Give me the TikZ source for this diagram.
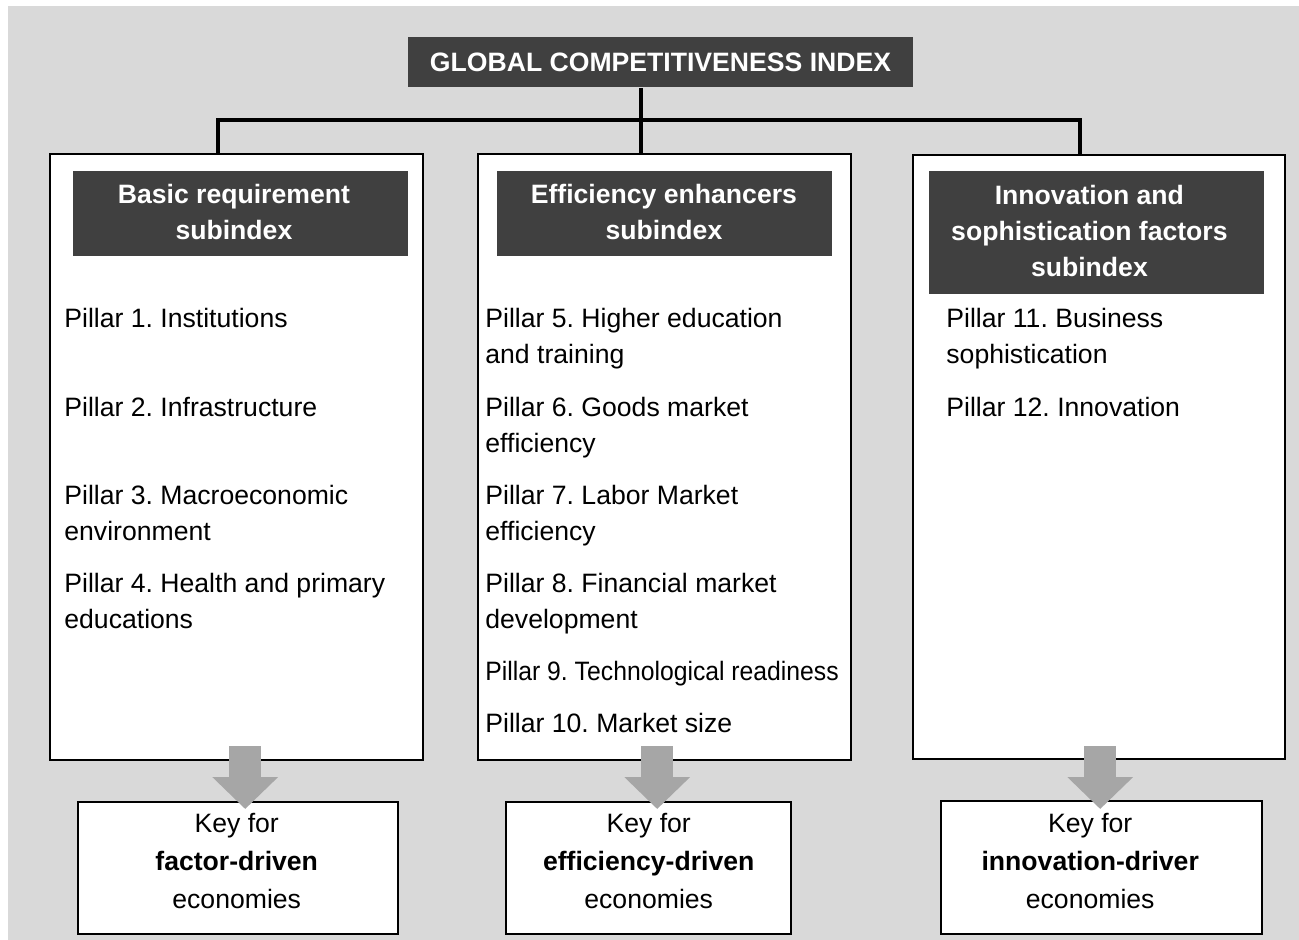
\documentclass[tikz,border=0pt]{standalone}
\usepackage{fontspec}
\setmainfont{Liberation Sans}
\usepackage{graphicx}
\usepackage{tikz}
\usetikzlibrary{arrows.meta}
\definecolor{bggray}{HTML}{D9D9D9}
\definecolor{headgray}{HTML}{404040}
\definecolor{arrowgray}{HTML}{A6A6A6}
\frenchspacing

\begin{document}
\begin{tikzpicture}[x=0.5pt,y=-0.5pt,
  every node/.style={font=\fontsize{13.3}{18}\selectfont},
  darkbox/.style={rectangle,fill=headgray,text=white,align=center,
    font=\fontsize{13.3}{18}\selectfont\bfseries},
  headtext/.style={text=white,align=center,inner sep=0pt,
    font=\fontsize{13.3}{18}\selectfont\bfseries},
  pillarbox/.style={rectangle,draw,line width=1.2pt,fill=white,anchor=north west},
  keybox/.style={rectangle,draw,line width=1.2pt,fill=white,anchor=north west},
  keytext/.style={align=center,inner sep=0pt,font=\fontsize{13.3}{19}\selectfont},
  pillar/.style={anchor=base west,align=left,inner sep=0pt},
  link/.style={line width=2pt},
  bigarrow/.style={draw=arrowgray,line width=16pt,-{Triangle[width=32pt,length=16pt]}}]
\fill[bggray] (8,6) rectangle (1299,940);
\useasboundingbox (0,0) rectangle (1299,940);

% index and the three subindex columns
\node[darkbox,minimum width=252.5pt,minimum height=25pt] (gci) at (660.5,62.5) {GLOBAL COMPETITIVENESS INDEX};
\node[pillarbox,minimum width=186.5pt,minimum height=303pt] (basic) at (49,153) {};
\node[pillarbox,minimum width=186.5pt,minimum height=303pt] (effic) at (477,153) {};
\node[pillarbox,minimum width=186pt,minimum height=302pt] (innov) at (912,154) {};

\node[darkbox,anchor=north west,minimum width=167.5pt,minimum height=42.5pt] (basichead) at (73,171) {};
\node[darkbox,anchor=north west,minimum width=167.5pt,minimum height=42.5pt] (effichead) at (497,171) {};
\node[darkbox,anchor=north west,minimum width=167.5pt,minimum height=61.5pt] (innovhead) at (929,171) {};
\node[headtext] (basictitle) at ([xshift=-3.5pt,yshift=1pt]basichead.center) {Basic requirement\\subindex};
\node[headtext] (effictitle) at ([xshift=-0.5pt,yshift=1pt]effichead.center) {Efficiency enhancers\\subindex};
\node[headtext] (innovtitle) at ([xshift=-3.75pt,yshift=1pt]innovhead.center) {Innovation and\\sophistication factors\\subindex};

% pillars (base = last line)
\node[pillar] (p1) at (64,328) {Pillar 1. Institutions};
\node[pillar] (p2) at (64,416) {Pillar 2. Infrastructure};
\node[pillar] (p3) at (64,540) {Pillar 3. Macroeconomic\\environment};
\node[pillar] (p4) at (64,628) {Pillar 4. Health and primary\\educations};

\node[pillar] (p5) at (485,364) {Pillar 5. Higher education\\and training};
\node[pillar] (p6) at (485,452) {Pillar 6. Goods market\\efficiency};
\node[pillar] (p7) at (485,540) {Pillar 7. Labor Market\\efficiency};
\node[pillar] (p8) at (485,628) {Pillar 8. Financial market\\development};
\node[pillar] (p9) at (485,680) {\scalebox{0.93}[1]{Pillar 9. Technological readiness}};
\node[pillar] (p10) at (485,732) {Pillar 10. Market size};

\node[pillar] (p11) at (946,364) {Pillar 11. Business\\sophistication};
\node[pillar] (p12) at (946,416) {Pillar 12. Innovation};

% stages of development
\node[keybox,minimum width=160pt,minimum height=66pt] (keyfactor) at (77,801) {};
\node[keybox,minimum width=142.5pt,minimum height=66pt] (keyeffic) at (505,801) {};
\node[keybox,minimum width=160.5pt,minimum height=66.5pt] (keyinnov) at (940,800) {};
\node[keytext] (factortext) at ([xshift=-0.75pt,yshift=3.5pt]keyfactor.center) {Key for\\\textbf{factor-driven}\\economies};
\node[keytext] (effictext) at ([yshift=3.5pt]keyeffic.center) {Key for\\\textbf{efficiency-driven}\\economies};
\node[keytext] (innovtext) at ([xshift=-5.75pt,yshift=3.5pt]keyinnov.center) {Key for\\\textbf{innovation-driver}\\economies};

% connectors
\coordinate (hub) at (641,120);
\coordinate (hubleft) at (218,120);
\coordinate (hubright) at (1080,120);
\draw[link] (hub |- gci.south) -- (hub |- effic.north);
\draw[link] (hubleft |- basic.north) -- (hubleft) -- (hubright) -- (hubright |- innov.north);

\draw[bigarrow] ([xshift=4.25pt,yshift=7.5pt]basic.south) -- ([xshift=3.5pt,yshift=-4pt]keyfactor.north);
\draw[bigarrow] ([xshift=-3.75pt,yshift=7.5pt]effic.south) -- ([xshift=4.25pt,yshift=-4pt]keyeffic.north);
\draw[bigarrow] ([xshift=0.5pt,yshift=7pt]innov.south) -- ([xshift=-0.75pt,yshift=-4.5pt]keyinnov.north);
\end{tikzpicture}
\end{document}
